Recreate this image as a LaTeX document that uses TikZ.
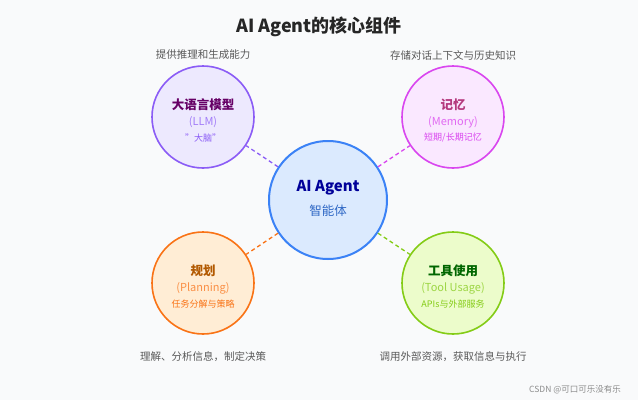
\documentclass[tikz,border=0pt]{standalone}
\usepackage{fontspec}
\setmainfont{Noto Sans CJK SC}
\begin{document}
\begin{tikzpicture}[x=1pt,y=-1pt,
  circ/.style={circle,draw,line width=1.6pt,minimum size=102pt,inner sep=0pt},
  conn/.style={dashed,line width=1.3pt,dash pattern=on 4pt off 3pt},
  captext/.style={font=\fontsize{10.5}{12}\selectfont,text=black!65}]
\definecolor{bg}{HTML}{F9FAFB}
\definecolor{pb}{HTML}{8B5CF6}\definecolor{pf}{HTML}{EDE9FE}
\definecolor{mb}{HTML}{D946EF}\definecolor{mf}{HTML}{FAE8FF}
\definecolor{ob}{HTML}{F97316}\definecolor{of}{HTML}{FFEDD5}
\definecolor{gb}{HTML}{84CC16}\definecolor{gf}{HTML}{ECFCCB}
\definecolor{cb}{HTML}{3B82F6}\definecolor{cf}{HTML}{DBEAFE}
\fill[bg] (0,0) rectangle (638,400);
\node[font=\fontsize{18}{21}\selectfont\bfseries,text=black!85] (title) at (319,27) {AI Agent的核心组件};
\node[circ,draw=cb,fill=cf,minimum size=118pt,line width=2pt] (c) at (328,200) {};
\node[font=\fontsize{15}{17}\selectfont\bfseries,text=blue!60!black] (ct) at (328,188) {AI Agent};
\node[font=\fontsize{12.5}{14}\selectfont,text=cb!80!black] (cs) at (328,211) {智能体};
\foreach \n/\x/\y/\b/\f/\t/\s/\d/\tc in {
  l/203/117/pb/pf/大语言模型/(LLM)/"大脑"/violet!80!black,
  m/453/117/mb/mf/记忆/(Memory)/{短期/长期记忆}/magenta!70!black,
  p/203/283/ob/of/规划/(Planning)/任务分解与策略/orange!70!black,
  t/453/283/gb/gf/工具使用/(Tool Usage)/APIs与外部服务/green!40!black}{
  \node[circ,draw=\b,fill=\f] (\n) at (\x,\y) {};
  \node[font=\fontsize{12.5}{14}\selectfont\bfseries,text=\tc] (\n t) at (\x,\y-12) {\t};
  \node[font=\fontsize{11}{13}\selectfont,text=\b!80] (\n s) at (\x,\y+5) {\s};
  \node[font=\fontsize{9}{11}\selectfont,text=\b] (\n d) at (\x,\y+21) {\d};
  \draw[conn,draw=\b] (c) -- (\n);
}
\node[captext] (cl) at (203,55) {提供推理和生成能力};
\node[captext] (cm) at (453,55) {存储对话上下文与历史知识};
\node[captext] (cp) at (203,357) {理解、分析信息，制定决策};
\node[captext] (ct2) at (453,357) {调用外部资源，获取信息与执行};
\node[font=\fontsize{8.5}{10}\selectfont,text=black!45] (wm) at (575,390) {CSDN @可口可乐没有乐};
\end{tikzpicture}
\end{document}
